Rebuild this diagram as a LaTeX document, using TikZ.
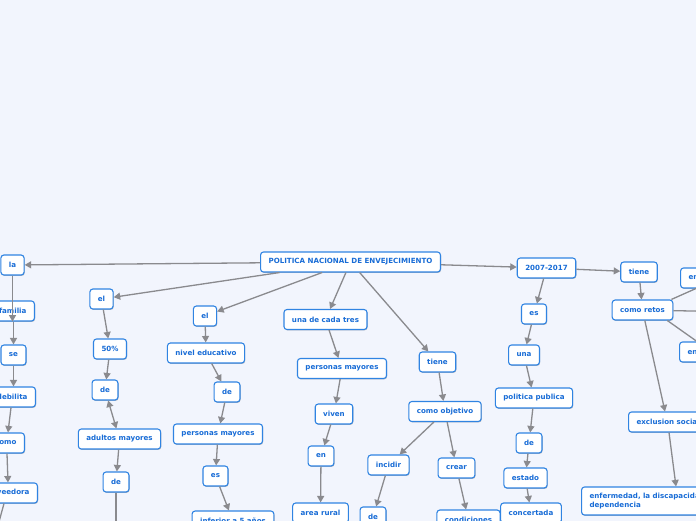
\documentclass[tikz,border=0pt]{standalone}
\usepackage{fontspec}
\setmainfont{DejaVu Sans}
\usetikzlibrary{arrows.meta,shadows}
\definecolor{bgc}{RGB}{242,245,253}
\definecolor{boxline}{RGB}{48,132,226}
\definecolor{boxtext}{RGB}{24,108,214}
\definecolor{edgec}{RGB}{138,138,142}
\tikzset{
  mm/.style={draw=boxline, line width=1.1pt, fill=white, rounded corners=3pt,
    text=boxtext, font=\fontsize{7.1}{9}\selectfont\bfseries,
    inner xsep=8pt, inner ysep=0pt, minimum height=20pt,
    drop shadow={shadow xshift=0.6pt, shadow yshift=-0.9pt, opacity=0.25, fill=black}},
  lnk/.style={draw=edgec, line width=1.3pt, -{Triangle[length=6.5pt,width=7pt]}},
  plain/.style={draw=edgec, line width=1.3pt}
}
\begin{document}
\begin{tikzpicture}[x=1pt,y=-1pt]
\useasboundingbox (0,0) rectangle (696,520);
\clip (0,0) rectangle (696,520);
\fill[bgc] (-10,-10) rectangle (706,530);

% left column
\node[mm] (la) at (12.5,265) {la};
\node[mm,anchor=east] (familia) at (35,311) {familia};
\node[mm] (se) at (13.5,355) {se};
\node[mm,anchor=east] (debilita) at (36,397) {debilita};
\node[mm,anchor=east] (como) at (25,443) {como};
\node[mm,anchor=east] (prov) at (38,493) {proveedora};
\coordinate (freeL) at (-6,540);

% second column
\node[mm] (elA) at (101.5,299) {el};
\node[mm] (pct) at (110,349) {50\%};
\node[mm] (deA) at (105,390) {de};
\node[mm] (adultos) at (119.5,439) {adultos mayores};
\node[mm] (deB) at (116,482) {de};
\coordinate (freeB) at (116,545);

% third column
\node[mm] (elB) at (205,316) {el};
\node[mm] (nivel) at (206,353) {nivel educativo};
\node[mm] (deC) at (227,392) {de};
\node[mm] (pmA) at (218,434) {personas mayores};
\node[mm] (esA) at (215.5,476) {es};
\node[mm] (baja) at (233,521) {inferior a 5 años};

% root
\node[mm] (pol) at (350.5,262) {POLITICA NACIONAL DE ENVEJECIMIENTO};

% fourth column
\node[mm] (unade) at (325.5,319.5) {una de cada tres};
\node[mm] (pmB) at (342,368.5) {personas mayores};
\node[mm] (viven) at (334,414) {viven};
\node[mm] (en) at (321,456) {en};
\node[mm] (rural) at (320.5,513) {area rural};

% fifth column
\node[mm] (tieneA) at (437.5,362) {tiene};
\node[mm] (objetivo) at (445,411.5) {como objetivo};
\node[mm] (incidir) at (388.5,465) {incidir};
\node[mm] (crear) at (456.5,468) {crear};
\node[mm] (deD) at (373,517) {de};
\node[mm] (cond) at (468.5,520) {condiciones};

% sixth column
\node[mm] (y2007) at (546.5,268) {2007-2017};
\node[mm] (esB) at (534,314) {es};
\node[mm] (una) at (524,355) {una};
\node[mm] (polpub) at (534,398) {politica publica};
\node[mm] (deE) at (529,443) {de};
\node[mm] (estado) at (525.5,478) {estado};
\node[mm] (concertada) at (531,513) {concertada};

% right part
\node[mm] (tieneB) at (639,272) {tiene};
\node[mm] (retos) at (642.5,310) {como retos};
\node[mm,anchor=west] (enA) at (680,278) {envejecimiento};
\node[mm,anchor=west] (enB) at (679,352) {enfermedades};
\node[mm,anchor=west] (excl) at (628,422) {exclusion social};
\node[mm,anchor=west,align=left,minimum height=28pt,text width=150pt] (enf) at (581,501) {enfermedad, la discapacidad y la\\dependencia};
\coordinate (freeR1) at (760,260);
\coordinate (freeR2) at (740,312);
\coordinate (freeR3) at (760,386);

% connectors
\draw[lnk] (pol) -- (la);
\draw[lnk] (la) -- (familia.south -| la);
\draw[lnk] (familia.south -| se) -- (se);
\draw[lnk] (se) -- (debilita.north -| se);
\draw[lnk] (debilita.south -| 11,0) -- (como.north -| 8,0);
\draw[lnk] (como.south -| 7,0) -- (prov.north -| 8,0);
\draw[plain] (prov.south -| 4,0) -- (freeL);

\draw[lnk] (pol) -- (elA);
\draw[lnk] (elA) -- (pct);
\draw[lnk] (pct) -- (deA);
\draw[draw=edgec, line width=1.3pt, {Triangle[length=6.5pt,width=7pt]}-{Triangle[length=6.5pt,width=7pt]}] (deA) -- (adultos);
\draw[lnk] (adultos) -- (deB);
\draw[lnk] (deB) -- (freeB);

\draw[lnk] (pol) -- (elB);
\draw[lnk] (elB) -- (nivel);
\draw[lnk] (nivel) -- (deC);
\draw[lnk] (deC) -- (pmA);
\draw[lnk] (pmA) -- (esA);
\draw[lnk] (esA) -- (baja);

\draw[lnk] (pol) -- (unade);
\draw[lnk] (unade) -- (pmB);
\draw[lnk] (pmB) -- (viven);
\draw[lnk] (viven) -- (en);
\draw[lnk] (en) -- (rural);

\draw[lnk] (pol) -- (tieneA);
\draw[lnk] (tieneA) -- (objetivo);
\draw[lnk] (objetivo) -- (incidir);
\draw[lnk] (objetivo) -- (crear);
\draw[lnk] (incidir) -- (deD);
\draw[lnk] (crear) -- (cond);

\draw[lnk] (pol) -- (y2007);
\draw[lnk] (y2007) -- (esB);
\draw[lnk] (esB) -- (una);
\draw[lnk] (una) -- (polpub);
\draw[lnk] (polpub) -- (deE);
\draw[lnk] (deE) -- (estado);
\draw[lnk] (estado) -- (concertada);

\draw[lnk] (y2007) -- (tieneB);
\draw[lnk] (tieneB) -- (retos);
\draw[plain] (retos.north east) ++(-2,0) -- (freeR1);
\draw[plain] (retos) -- (freeR2);
\draw[plain] (retos.south east) ++(-6,0) -- (freeR3);
\draw[lnk] (retos) -- (excl.north -| 665,0);
\draw[lnk] (excl.south -| 669,0) -- (enf.north -| 676,0);
\end{tikzpicture}
\end{document}
